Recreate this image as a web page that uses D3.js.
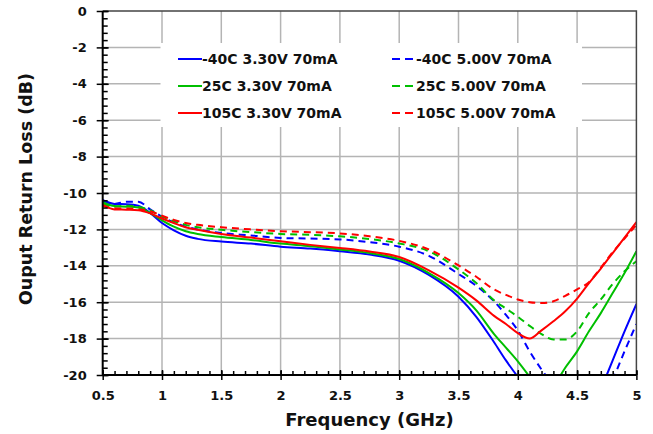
<!DOCTYPE html>
<html>
<head>
<meta charset="utf-8">
<script src="https://cdn.jsdelivr.net/npm/d3@7"></script>
<style>
  body { margin: 0; background: #fff; }
  text { font-family: "DejaVu Sans", Verdana, sans-serif; font-weight: bold; }
</style>
</head>
<body>
<div id="chart"></div>
<script>
// Frequency points (GHz)
var freq = [0.5, 0.6, 0.7, 0.8, 0.9, 1.0, 1.1, 1.2, 1.3, 1.5, 1.75, 2.0, 2.25, 2.5, 2.75, 3.0,
  3.25, 3.5, 3.65, 3.8, 3.9, 4.0, 4.1, 4.2, 4.3, 4.4, 4.5, 4.6, 4.7, 4.8, 4.9, 5.0];

// Output return loss (dB); null = below the chart floor
var blue33 = [-10.4, -10.6, -10.62, -10.7, -11.1, -11.65, -12.05, -12.35, -12.52, -12.67, -12.78, -12.95, -13.05, -13.2, -13.38, -13.72,
  -14.5, -15.7, -16.8, -18.2, -19.2, -20.1, null, null, null, null, null, null, -20.8, -19.2, -17.6, -16.1];
var blue50 = [-10.4, -10.6, -10.48, -10.48, -10.9, -11.3, -11.62, -11.85, -12.0, -12.2, -12.33, -12.47, -12.5, -12.55, -12.7, -12.95,
  -13.45, -14.45, -15.1, -15.95, -16.7, -17.55, -18.7, -19.7, -20.6, null, null, null, null, -20.3, -18.7, -17.2];
var green33 = [-10.5, -10.72, -10.75, -10.8, -11.1, -11.5, -11.85, -12.1, -12.25, -12.42, -12.58, -12.78, -12.92, -13.1, -13.3, -13.63,
  -14.4, -15.5, -16.45, -17.75, -18.5, -19.25, -20.1, null, -20.7, -19.6, -18.7, -17.6, -16.6, -15.5, -14.4, -13.2];
var green50 = [-10.6, -10.75, -10.7, -10.75, -10.95, -11.3, -11.55, -11.75, -11.88, -12.02, -12.15, -12.25, -12.3, -12.38, -12.53, -12.77,
  -13.2, -14.2, -14.95, -15.9, -16.35, -16.8, -17.3, -17.75, -18.05, -18.05, -17.6, -16.6, -15.85, -15.0, -14.3, -13.75];
var red33 = [-10.65, -10.9, -10.92, -10.95, -11.12, -11.4, -11.65, -11.88, -12.02, -12.25, -12.45, -12.65, -12.85, -13.02, -13.22, -13.52,
  -14.25, -15.2, -15.9, -16.75, -17.2, -17.7, -18.0, -17.55, -17.05, -16.5, -15.8, -14.95, -14.15, -13.3, -12.45, -11.6];
var red50 = [-10.7, -10.85, -10.85, -10.9, -11.0, -11.25, -11.48, -11.65, -11.75, -11.88, -12.0, -12.1, -12.15, -12.22, -12.38, -12.63,
  -13.1, -13.98, -14.6, -15.3, -15.6, -15.85, -16.0, -16.05, -15.95, -15.65, -15.3, -14.9, -14.1, -13.25, -12.5, -11.75];

var xTicks = [0.5, 1, 1.5, 2, 2.5, 3, 3.5, 4, 4.5, 5];
var yTicks = [0, -2, -4, -6, -8, -10, -12, -14, -16, -18, -20];

var series = [
  { name: "-40C 3.30V 70mA", values: blue33, color: "#0000ff", dashed: false },
  { name: "-40C 5.00V 70mA", values: blue50, color: "#0000ff", dashed: true },
  { name: "25C 3.30V 70mA", values: green33, color: "#00bf00", dashed: false },
  { name: "25C 5.00V 70mA", values: green50, color: "#00bf00", dashed: true },
  { name: "105C 3.30V 70mA", values: red33, color: "#ff0000", dashed: false },
  { name: "105C 5.00V 70mA", values: red50, color: "#ff0000", dashed: true }
];

var svg = d3.select("#chart").append("svg")
  .attr("width", 653)
  .attr("height", 434);

var pLeft = 102.7, pRight = 636.4, pTop = 11, pBottom = 375;

var x = d3.scaleLinear().domain([0.5, 5]).range([pLeft, pRight]);
var y = d3.scaleLinear().domain([-20, 0]).range([pBottom, pTop]);

// grid
svg.append("g").selectAll("line")
  .data(xTicks.slice(1, -1))
  .enter().append("line")
  .attr("x1", function (d) { return x(d); })
  .attr("x2", function (d) { return x(d); })
  .attr("y1", pTop).attr("y2", pBottom)
  .attr("stroke", "#b4b4b4").attr("stroke-width", 1.5);

svg.append("g").selectAll("line")
  .data(yTicks.slice(1, -1))
  .enter().append("line")
  .attr("y1", function (d) { return y(d); })
  .attr("y2", function (d) { return y(d); })
  .attr("x1", pLeft).attr("x2", pRight)
  .attr("stroke", "#b4b4b4").attr("stroke-width", 1.5);

// legend background hides the grid
svg.append("rect")
  .attr("x", 160.5).attr("y", 43)
  .attr("width", 421.5).attr("height", 84)
  .attr("fill", "#fff");

// clip curves to the plot area
svg.append("clipPath").attr("id", "plotclip")
  .append("rect")
  .attr("x", pLeft).attr("y", pTop)
  .attr("width", pRight - pLeft).attr("height", pBottom - pTop);

var line = d3.line()
  .defined(function (d) { return d[1] !== null; })
  .x(function (d) { return x(d[0]); })
  .y(function (d) { return y(d[1]); })
  .curve(d3.curveMonotoneX);

svg.append("g").attr("clip-path", "url(#plotclip)")
  .selectAll("path")
  .data(series)
  .enter().append("path")
  .attr("d", function (s) {
    return line(freq.map(function (f, i) { return [f, s.values[i]]; }));
  })
  .attr("fill", "none")
  .attr("stroke", function (s) { return s.color; })
  .attr("stroke-width", 2)
  .attr("stroke-dasharray", function (s) { return s.dashed ? "7,5" : null; });

// legend entries
series.forEach(function (s, i) {
  var row = Math.floor(i / 2);
  var lx = s.dashed ? 392 : 178;
  var ly = 59 + row * 27;
  svg.append("line")
    .attr("x1", lx).attr("x2", lx + 24)
    .attr("y1", ly).attr("y2", ly)
    .attr("stroke", s.color).attr("stroke-width", 2)
    .attr("stroke-dasharray", s.dashed ? "8,5" : null);
  svg.append("text")
    .attr("x", lx + 24).attr("y", ly + 5)
    .attr("font-size", "14px")
    .attr("fill", "#111")
    .text(s.name);
});

// frame (top/right)
svg.append("path")
  .attr("d", "M" + pLeft + "," + pTop + "H" + pRight + "V" + pBottom)
  .attr("fill", "none").attr("stroke", "#444").attr("stroke-width", 1.5);

// plain hyphen for negatives, like the original
var fmt = function (d) { return String(d); };

// axes: minor ticks first, then major ticks with labels
var yMinor = svg.append("g").attr("transform", "translate(" + pLeft + ",0)");
yMinor.call(d3.axisLeft(y).tickValues(d3.range(0, -20.01, -0.4)).tickSize(0).tickFormat(""));
yMinor.selectAll(".tick line").attr("x2", 5).attr("stroke", "#000").attr("stroke-width", 1.5);
yMinor.select(".domain").remove();
var yMajor = svg.append("g").attr("transform", "translate(" + pLeft + ",0)");
yMajor.call(d3.axisLeft(y).tickValues(yTicks).tickSize(0).tickPadding(16).tickFormat(fmt));
yMajor.selectAll(".tick line").attr("x1", -6).attr("x2", 6).attr("stroke", "#000").attr("stroke-width", 1.5);
yMajor.select(".domain").remove();
yMajor.selectAll("text").attr("font-size", "13px").attr("fill", "#111");

var xMinor = svg.append("g").attr("transform", "translate(0," + pBottom + ")");
xMinor.call(d3.axisBottom(x).tickValues(d3.range(0.5, 5.001, 0.1)).tickSize(0).tickFormat(""));
xMinor.selectAll(".tick line").attr("y2", -4).attr("stroke", "#000").attr("stroke-width", 1.5);
xMinor.select(".domain").remove();
var xMajor = svg.append("g").attr("transform", "translate(0," + pBottom + ")");
xMajor.call(d3.axisBottom(x).tickValues(xTicks).tickSize(0).tickPadding(16).tickFormat(fmt));
xMajor.selectAll(".tick line").attr("y1", -5).attr("y2", 5).attr("stroke", "#000").attr("stroke-width", 1.5);
xMajor.select(".domain").remove();
xMajor.selectAll("text").attr("font-size", "13px").attr("fill", "#111");

// axis lines
svg.append("path")
  .attr("d", "M" + pLeft + "," + pTop + "V" + pBottom + "H" + pRight)
  .attr("fill", "none").attr("stroke", "#000").attr("stroke-width", 2);

// titles
svg.append("text")
  .attr("x", (pLeft + pRight) / 2).attr("y", 426)
  .attr("text-anchor", "middle")
  .attr("font-size", "18px").attr("fill", "#111")
  .text("Frequency (GHz)");

svg.append("text")
  .attr("transform", "translate(32,189) rotate(-90)")
  .attr("text-anchor", "middle")
  .attr("font-size", "17.5px").attr("fill", "#111")
  .text("Ouput Return Loss (dB)");
</script>
</body>
</html>
